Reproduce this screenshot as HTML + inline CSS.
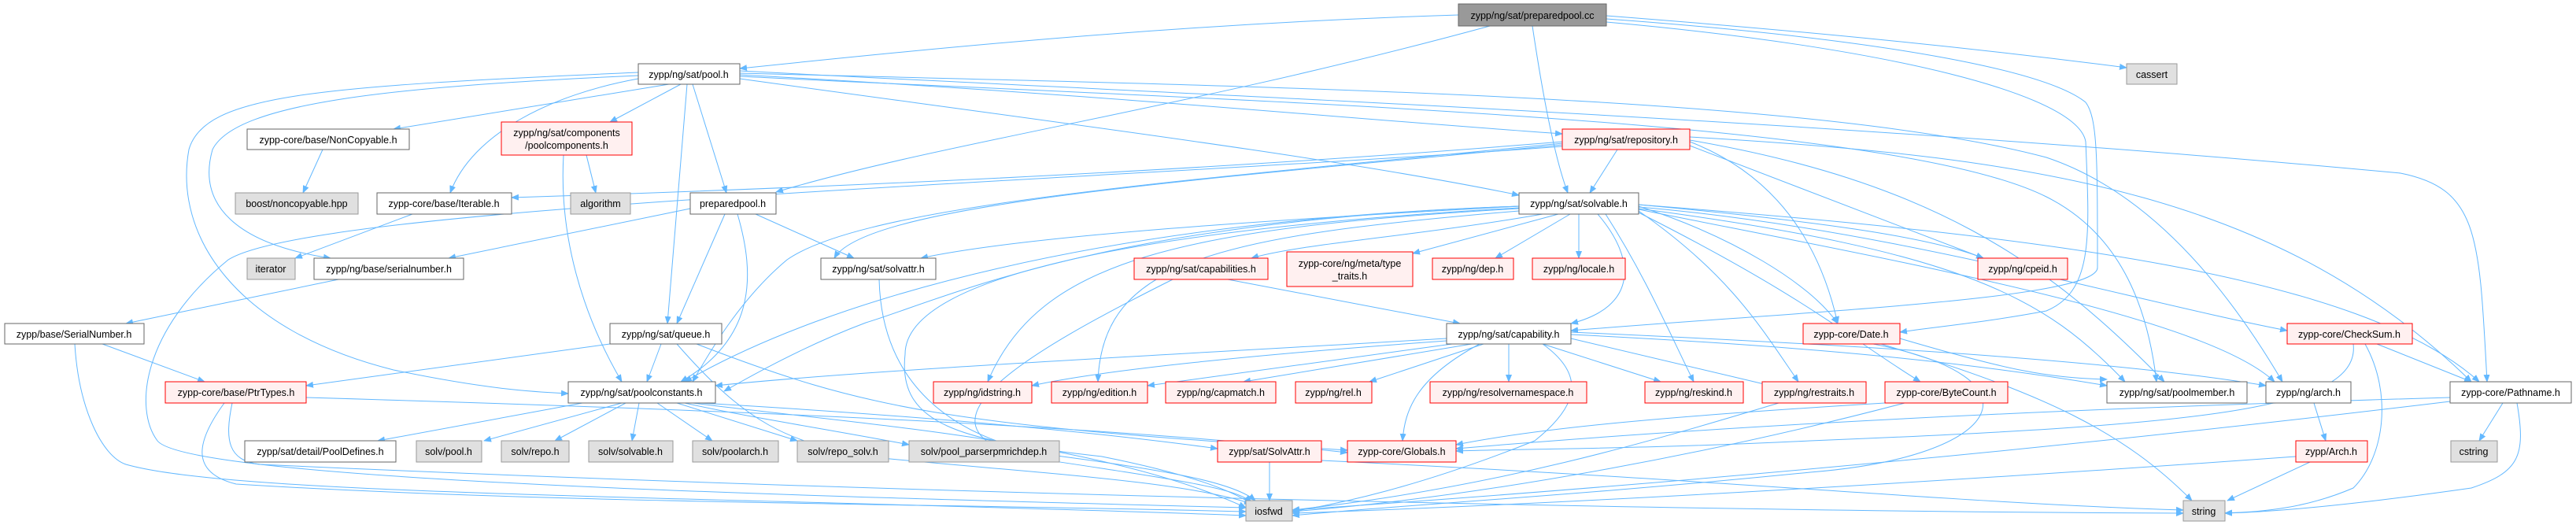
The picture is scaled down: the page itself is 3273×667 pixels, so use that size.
<!DOCTYPE html>
<html><head><meta charset="utf-8"><style>
html,body{margin:0;padding:0;background:#fff}
svg{display:block}
text{font-family:"Liberation Sans",Arial,sans-serif;font-size:12.5px;fill:#000;text-anchor:middle}
.n rect{fill:#fff;stroke:#666;stroke-width:1}
.r rect{fill:#fff0f0;stroke:#f00;stroke-width:1}
.g rect{fill:#e0e0e0;stroke:#999;stroke-width:1}
.e path{fill:none;stroke:#63b8ff;stroke-width:1}
</style></head><body>
<svg width="3273" height="667" viewBox="0 0 3273 667" xmlns="http://www.w3.org/2000/svg">
<defs><marker id="a" markerWidth="10" markerHeight="8" refX="9" refY="4" orient="auto" markerUnits="userSpaceOnUse"><path d="M0,0L10,4L0,8z" fill="#63b8ff"/></marker></defs>
<g class="e" marker-end="url(#a)">
<path d="M1853,19 C1500,30 1200,60 940,87" marker-end="url(#a)"/>
<path d="M1893,33 C1500,140 1200,180 986,244" marker-end="url(#a)"/>
<path d="M1947,33 C1960,120 1975,200 1992,245" marker-end="url(#a)"/>
<path d="M2041,20 C2300,40 2500,60 2702,86" marker-end="url(#a)"/>
<path d="M2041,24 C2400,50 2600,90 2650,130 C2665,150 2665,200 2665,340 C2665,380 2300,395 1996,420" marker-end="url(#a)"/>
<path d="M2041,28 C2400,60 2640,120 2650,180 C2655,300 2660,370 2600,395 C2520,410 2460,415 2414,422" marker-end="url(#a)"/>
<path d="M940,95 C1400,120 1700,150 1985,170" marker-end="url(#a)"/>
<path d="M940,100 C1300,150 1700,200 1930,248" marker-end="url(#a)"/>
<path d="M850,107 L500,164" marker-end="url(#a)"/>
<path d="M865,107 L775,155" marker-end="url(#a)"/>
<path d="M811,100 C700,120 600,170 572,245" marker-end="url(#a)"/>
<path d="M811,96 C500,110 300,130 270,190 C250,260 300,310 420,328" marker-end="url(#a)"/>
<path d="M811,92 C400,110 260,120 240,190 C220,300 300,420 500,470 C620,495 680,498 722,500" marker-end="url(#a)"/>
<path d="M873,107 L848,411" marker-end="url(#a)"/>
<path d="M880,107 L923,245" marker-end="url(#a)"/>
<path d="M940,90 C1500,120 2300,150 3050,220 C3150,240 3150,300 3160,485" marker-end="url(#a)"/>
<path d="M940,93 C1600,110 2300,120 2600,200 C2750,250 2850,400 2900,485" marker-end="url(#a)"/>
<path d="M940,97 C1600,130 2400,150 2600,250 C2700,300 2730,400 2740,485" marker-end="url(#a)"/>
<path d="M745,197 L757,245" marker-end="url(#a)"/>
<path d="M716,197 C710,300 740,400 790,485" marker-end="url(#a)"/>
<path d="M410,190 L385,245" marker-end="url(#a)"/>
<path d="M524,272 L375,328" marker-end="url(#a)"/>
<path d="M877,265 L570,328" marker-end="url(#a)"/>
<path d="M921,272 L860,411" marker-end="url(#a)"/>
<path d="M937,272 C960,350 960,430 865,485" marker-end="url(#a)"/>
<path d="M960,272 L1085,328" marker-end="url(#a)"/>
<path d="M430,355 L160,411" marker-end="url(#a)"/>
<path d="M130,437 L260,485" marker-end="url(#a)"/>
<path d="M95,437 C100,520 130,580 160,590 C300,630 900,630 1583,655" marker-end="url(#a)"/>
<path d="M775,437 L389,490" marker-end="url(#a)"/>
<path d="M840,437 L822,485" marker-end="url(#a)"/>
<path d="M860,437 C950,540 1000,560 1100,580 C1300,600 1500,610 1590,640" marker-end="url(#a)"/>
<path d="M885,437 C1100,520 1200,540 1712,572" marker-end="url(#a)"/>
<path d="M389,505 C900,520 1400,540 1712,575" marker-end="url(#a)"/>
<path d="M285,512 C250,560 240,600 300,615 C700,640 1200,640 1583,650" marker-end="url(#a)"/>
<path d="M295,512 C285,560 290,585 330,590 C1200,630 2200,650 2774,652" marker-end="url(#a)"/>
<path d="M740,512 L480,560" marker-end="url(#a)"/>
<path d="M790,512 L615,560" marker-end="url(#a)"/>
<path d="M795,512 L705,560" marker-end="url(#a)"/>
<path d="M812,512 L803,560" marker-end="url(#a)"/>
<path d="M835,512 L905,560" marker-end="url(#a)"/>
<path d="M860,512 L1013,560" marker-end="url(#a)"/>
<path d="M870,512 C950,530 1050,545 1155,565" marker-end="url(#a)"/>
<path d="M890,512 C1200,530 1400,550 1547,570" marker-end="url(#a)"/>
<path d="M880,512 C1100,540 1400,560 1583,645" marker-end="url(#a)"/>
<path d="M1985,180 C1500,220 1000,240 650,251" marker-end="url(#a)"/>
<path d="M2055,190 L2020,245" marker-end="url(#a)"/>
<path d="M1985,182 C1500,230 1100,260 1000,330 C940,380 900,450 880,485" marker-end="url(#a)"/>
<path d="M1985,186 C1400,230 400,260 290,330 C180,420 170,520 200,560 C240,610 1000,630 1583,645" marker-end="url(#a)"/>
<path d="M1985,184 C1500,230 1100,260 1060,328" marker-end="url(#a)"/>
<path d="M2147,185 L2520,328" marker-end="url(#a)"/>
<path d="M2147,180 C2250,220 2310,300 2335,411" marker-end="url(#a)"/>
<path d="M2147,178 C2450,230 2600,330 2750,485" marker-end="url(#a)"/>
<path d="M2147,174 C2600,200 2900,250 3140,485" marker-end="url(#a)"/>
<path d="M1930,262 C1600,280 1300,300 1170,328" marker-end="url(#a)"/>
<path d="M1960,272 C1800,300 1650,310 1590,328" marker-end="url(#a)"/>
<path d="M1980,272 L1795,322" marker-end="url(#a)"/>
<path d="M1995,272 L1900,328" marker-end="url(#a)"/>
<path d="M2006,272 L2006,328" marker-end="url(#a)"/>
<path d="M2030,272 C2080,330 2080,390 1996,411" marker-end="url(#a)"/>
<path d="M1930,265 C1500,290 1320,330 1255,485" marker-end="url(#a)"/>
<path d="M1930,268 C1550,300 1400,330 1395,485" marker-end="url(#a)"/>
<path d="M1930,262 C1400,280 1050,380 870,485" marker-end="url(#a)"/>
<path d="M1930,264 C1300,300 1150,380 1150,450 C1140,540 1220,560 1400,580 C1500,600 1560,620 1590,640" marker-end="url(#a)"/>
<path d="M1930,262 C1400,280 1200,380 1100,410 C1020,440 950,480 920,497" marker-end="url(#a)"/>
<path d="M2082,260 C2300,280 2450,300 2520,328" marker-end="url(#a)"/>
<path d="M2082,262 C2200,300 2300,360 2335,411" marker-end="url(#a)"/>
<path d="M2040,272 C2090,350 2120,420 2152,485" marker-end="url(#a)"/>
<path d="M2082,268 C2200,350 2240,420 2285,485" marker-end="url(#a)"/>
<path d="M2082,270 C2300,380 2350,430 2440,485" marker-end="url(#a)"/>
<path d="M2082,265 C2500,320 2600,380 2700,485" marker-end="url(#a)"/>
<path d="M2082,266 C2400,330 2800,400 2890,485" marker-end="url(#a)"/>
<path d="M2082,263 C2400,290 2700,380 2906,420" marker-end="url(#a)"/>
<path d="M2082,260 C2600,300 3000,350 3150,485" marker-end="url(#a)"/>
<path d="M1560,355 L1855,411" marker-end="url(#a)"/>
<path d="M1490,355 C1300,450 1150,540 1300,580 C1500,610 1570,620 1590,638" marker-end="url(#a)"/>
<path d="M1838,430 C1500,450 1100,470 909,490" marker-end="url(#a)"/>
<path d="M1838,433 C1600,450 1400,470 1311,490" marker-end="url(#a)"/>
<path d="M1845,437 L1458,490" marker-end="url(#a)"/>
<path d="M1870,437 L1580,485" marker-end="url(#a)"/>
<path d="M1885,437 L1740,485" marker-end="url(#a)"/>
<path d="M1917,437 L1917,485" marker-end="url(#a)"/>
<path d="M1880,437 C1800,480 1785,520 1782,560" marker-end="url(#a)"/>
<path d="M1960,437 C2020,480 2000,520 1950,560 C1800,620 1700,640 1642,650" marker-end="url(#a)"/>
<path d="M1960,437 L2110,485" marker-end="url(#a)"/>
<path d="M1996,430 L2250,490" marker-end="url(#a)"/>
<path d="M1996,425 C2300,440 2500,460 2677,490" marker-end="url(#a)"/>
<path d="M1996,422 C2400,440 2700,460 2879,490" marker-end="url(#a)"/>
<path d="M2390,437 C2600,500 2700,550 2785,636" marker-end="url(#a)"/>
<path d="M2380,437 C2600,480 2550,580 2300,600 C2000,630 1800,640 1642,655" marker-end="url(#a)"/>
<path d="M2414,430 C2550,470 2600,480 2677,482" marker-end="url(#a)"/>
<path d="M3020,437 L3140,485" marker-end="url(#a)"/>
<path d="M3005,437 C3040,500 3030,580 2990,620 C2920,650 2860,650 2827,652" marker-end="url(#a)"/>
<path d="M2990,437 C3000,520 2800,540 2300,560 C2100,570 1950,570 1850,573" marker-end="url(#a)"/>
<path d="M2395,512 C2100,530 1950,545 1850,565" marker-end="url(#a)"/>
<path d="M2420,512 C2200,570 1900,630 1642,650" marker-end="url(#a)"/>
<path d="M2260,512 C2100,560 1900,620 1642,648" marker-end="url(#a)"/>
<path d="M3113,505 C2600,520 2200,540 1850,570" marker-end="url(#a)"/>
<path d="M3113,510 C2700,560 2200,610 1642,648" marker-end="url(#a)"/>
<path d="M3180,512 L3150,560" marker-end="url(#a)"/>
<path d="M3198,512 C3210,580 3200,600 3140,620 C3000,640 2900,650 2827,652" marker-end="url(#a)"/>
<path d="M2940,512 L2955,560" marker-end="url(#a)"/>
<path d="M2935,587 L2830,636" marker-end="url(#a)"/>
<path d="M2917,580 C2500,610 2000,640 1642,652" marker-end="url(#a)"/>
<path d="M1613,587 L1613,636" marker-end="url(#a)"/>
<path d="M1679,585 C2200,610 2500,640 2774,648" marker-end="url(#a)"/>
<path d="M1117,355 C1120,480 1200,560 1350,580 C1500,600 1570,615 1595,636" marker-end="url(#a)"/>
</g>
<g class="g" transform="translate(0,0)"><rect x="1853" y="5" width="188" height="28" style="fill:#999;stroke:#666"/><text x="1947" y="24">zypp/ng/sat/preparedpool.cc</text></g>
<g class="n"><rect x="811" y="81" width="129" height="26"/><text x="875" y="99">zypp/ng/sat/pool.h</text></g>
<g class="g"><rect x="2702" y="81" width="64" height="26"/><text x="2734" y="99">cassert</text></g>
<g class="n"><rect x="314" y="164" width="206" height="26"/><text x="417" y="182">zypp-core/base/NonCopyable.h</text></g>
<g class="r"><rect x="637" y="155" width="166" height="42"/><text x="720" y="173">zypp/ng/sat/components</text><text x="720" y="189">/poolcomponents.h</text></g>
<g class="r"><rect x="1985" y="164" width="162" height="26"/><text x="2066" y="182">zypp/ng/sat/repository.h</text></g>
<g class="g"><rect x="299" y="245" width="156" height="27"/><text x="377" y="263">boost/noncopyable.hpp</text></g>
<g class="n"><rect x="479" y="245" width="171" height="27"/><text x="564" y="263">zypp-core/base/Iterable.h</text></g>
<g class="g"><rect x="725" y="245" width="76" height="27"/><text x="763" y="263">algorithm</text></g>
<g class="n"><rect x="877" y="245" width="109" height="27"/><text x="931" y="263">preparedpool.h</text></g>
<g class="n"><rect x="1930" y="245" width="152" height="27"/><text x="2006" y="263">zypp/ng/sat/solvable.h</text></g>
<g class="g"><rect x="314" y="328" width="61" height="27"/><text x="344" y="346">iterator</text></g>
<g class="n"><rect x="399" y="328" width="190" height="27"/><text x="494" y="346">zypp/ng/base/serialnumber.h</text></g>
<g class="n"><rect x="1043" y="328" width="146" height="27"/><text x="1116" y="346">zypp/ng/sat/solvattr.h</text></g>
<g class="r"><rect x="1441" y="328" width="170" height="27"/><text x="1526" y="346">zypp/ng/sat/capabilities.h</text></g>
<g class="r"><rect x="1635" y="320" width="160" height="44"/><text x="1715" y="339">zypp-core/ng/meta/type</text><text x="1715" y="355">_traits.h</text></g>
<g class="r"><rect x="1820" y="328" width="103" height="27"/><text x="1871" y="346">zypp/ng/dep.h</text></g>
<g class="r"><rect x="1947" y="328" width="118" height="27"/><text x="2006" y="346">zypp/ng/locale.h</text></g>
<g class="r"><rect x="2513" y="328" width="114" height="27"/><text x="2570" y="346">zypp/ng/cpeid.h</text></g>
<g class="n"><rect x="6" y="411" width="177" height="26"/><text x="94" y="429">zypp/base/SerialNumber.h</text></g>
<g class="n"><rect x="775" y="411" width="142" height="26"/><text x="846" y="429">zypp/ng/sat/queue.h</text></g>
<g class="n"><rect x="1838" y="411" width="158" height="26"/><text x="1917" y="429">zypp/ng/sat/capability.h</text></g>
<g class="r"><rect x="2291" y="411" width="123" height="26"/><text x="2352" y="429">zypp-core/Date.h</text></g>
<g class="r"><rect x="2906" y="411" width="159" height="26"/><text x="2985" y="429">zypp-core/CheckSum.h</text></g>
<g class="r"><rect x="210" y="485" width="179" height="27"/><text x="300" y="503">zypp-core/base/PtrTypes.h</text></g>
<g class="n"><rect x="722" y="485" width="187" height="27"/><text x="815" y="503">zypp/ng/sat/poolconstants.h</text></g>
<g class="r"><rect x="1186" y="485" width="125" height="27"/><text x="1248" y="503">zypp/ng/idstring.h</text></g>
<g class="r"><rect x="1336" y="485" width="122" height="27"/><text x="1397" y="503">zypp/ng/edition.h</text></g>
<g class="r"><rect x="1481" y="485" width="140" height="27"/><text x="1551" y="503">zypp/ng/capmatch.h</text></g>
<g class="r"><rect x="1646" y="485" width="97" height="27"/><text x="1694" y="503">zypp/ng/rel.h</text></g>
<g class="r"><rect x="1817" y="485" width="199" height="27"/><text x="1916" y="503">zypp/ng/resolvernamespace.h</text></g>
<g class="r"><rect x="2090" y="485" width="125" height="27"/><text x="2152" y="503">zypp/ng/reskind.h</text></g>
<g class="r"><rect x="2239" y="485" width="132" height="27"/><text x="2305" y="503">zypp/ng/restraits.h</text></g>
<g class="r"><rect x="2395" y="485" width="156" height="27"/><text x="2473" y="503">zypp-core/ByteCount.h</text></g>
<g class="n"><rect x="2677" y="485" width="178" height="27"/><text x="2766" y="503">zypp/ng/sat/poolmember.h</text></g>
<g class="n"><rect x="2879" y="485" width="108" height="27"/><text x="2933" y="503">zypp/ng/arch.h</text></g>
<g class="n"><rect x="3113" y="485" width="154" height="27"/><text x="3190" y="503">zypp-core/Pathname.h</text></g>
<g class="n"><rect x="311" y="560" width="192" height="27"/><text x="407" y="578">zypp/sat/detail/PoolDefines.h</text></g>
<g class="g"><rect x="529" y="560" width="83" height="27"/><text x="570" y="578">solv/pool.h</text></g>
<g class="g"><rect x="637" y="560" width="86" height="27"/><text x="680" y="578">solv/repo.h</text></g>
<g class="g"><rect x="748" y="560" width="107" height="27"/><text x="801" y="578">solv/solvable.h</text></g>
<g class="g"><rect x="880" y="560" width="109" height="27"/><text x="934" y="578">solv/poolarch.h</text></g>
<g class="g"><rect x="1013" y="560" width="116" height="27"/><text x="1071" y="578">solv/repo_solv.h</text></g>
<g class="g"><rect x="1155" y="560" width="191" height="27"/><text x="1250" y="578">solv/pool_parserpmrichdep.h</text></g>
<g class="r"><rect x="1547" y="560" width="132" height="27"/><text x="1613" y="578">zypp/sat/SolvAttr.h</text></g>
<g class="r"><rect x="1712" y="560" width="138" height="27"/><text x="1781" y="578">zypp-core/Globals.h</text></g>
<g class="r"><rect x="2917" y="560" width="91" height="27"/><text x="2962" y="578">zypp/Arch.h</text></g>
<g class="g"><rect x="3114" y="560" width="59" height="27"/><text x="3143" y="578">cstring</text></g>
<g class="g"><rect x="1583" y="636" width="59" height="26"/><text x="1612" y="654">iosfwd</text></g>
<g class="g"><rect x="2774" y="636" width="53" height="26"/><text x="2800" y="654">string</text></g>
</svg>
</body></html>
